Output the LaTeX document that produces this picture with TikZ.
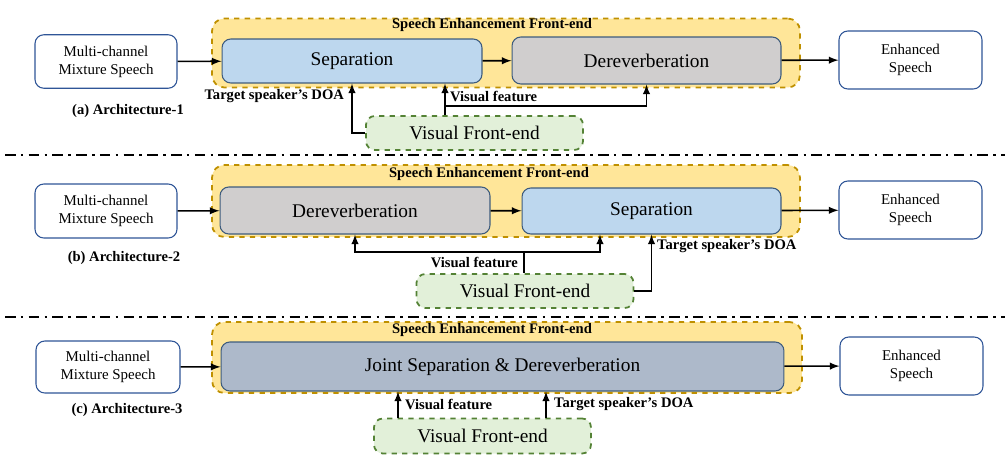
\documentclass[tikz,border=0pt]{standalone}
\usepackage{fontspec}
\setmainfont{Liberation Serif}
\definecolor{seyellow}{HTML}{FFE699}
\definecolor{seedge}{HTML}{BF9000}
\definecolor{sepblue}{HTML}{BDD7EE}
\definecolor{dergrey}{HTML}{D0CECE}
\definecolor{jointblue}{HTML}{ADB9CA}
\definecolor{vfgreen}{HTML}{E2F0D9}
\definecolor{vfedge}{HTML}{548235}
\definecolor{boxedge}{HTML}{3E5C7E}
\definecolor{inedge}{HTML}{2F5597}
\begin{document}
\begin{tikzpicture}[x=0.02cm,y=-0.02cm,
  inbox/.style={draw=inedge,line width=0.6pt,rounded corners=5pt,fill=white,align=center,
    minimum width=2.84cm,minimum height=1.07cm,font=\fontsize{8.5}{10.2}\selectfont},
  sebox/.style={draw=seedge,dashed,line width=1pt,rounded corners=7pt,fill=seyellow,
    minimum width=11.76cm},
  blockbox/.style={draw=boxedge,line width=0.6pt,rounded corners=5pt,
    minimum height=0.92cm,font=\fontsize{11}{13}\selectfont},
  vfbox/.style={draw=vfedge,dashed,line width=1pt,rounded corners=5pt,fill=vfgreen,
    minimum width=4.34cm,minimum height=0.68cm,font=\fontsize{11}{13}\selectfont},
  lbl/.style={font=\fontsize{8.3}{9.8}\selectfont\bfseries,inner sep=1pt},
  sepline/.style={line width=0.9pt,dash pattern=on 6pt off 3pt on 1.5pt off 3pt},
  arr/.style={->,>=latex,line width=0.9pt}]

\useasboundingbox (0,0) rectangle (1007,460);

\node[inbox]
(IA)
at (106,61.5)
{Multi-channel\\Mixture Speech};

\node[sebox,minimum height=1.38cm]
(EA)
at (506,53)
{};

\node[lbl]
(TA)
at (492,25)
{Speech Enhancement Front-end};

\node[blockbox,fill=sepblue,minimum width=5.2cm,minimum height=0.88cm]
(SA)
at (352,61)
{Separation};

\node[blockbox,fill=dergrey,minimum width=5.38cm,minimum height=0.94cm]
(DA)
at (646.5,60.5)
{Dereverberation};

\node[inbox,minimum width=2.86cm,minimum height=1.16cm]
(OA)
at (910.5,60)
{Enhanced\\Speech};

\node[vfbox]
(VA)
at (474.5,133)
{Visual Front-end};

\coordinate (FA) at (445,106);

\node[lbl,anchor=east]
(LDA)
at (346,96)
{Target speaker’s DOA};

\node[lbl,anchor=west]
(LFA)
at (448,96)
{Visual feature};

\node[lbl]
(CA)
at (128,111)
{(a) Architecture-1};

\draw[arr] (IA) -- (SA);
\draw[arr] (SA) -- (DA);
\draw[arr] (DA) -- (OA);
\draw[arr] (VA.west) -| (SA.south);
\draw[arr] (VA.north -| FA) -- (SA.south -| FA);
\draw[arr] (FA) -| (DA.south);

\coordinate (LA1) at (5,155);
\coordinate (LA2) at (1005,155);
\draw[sepline] (LA1) -- (LA2);

\node[inbox,minimum height=1.08cm]
(IB)
at (106,211)
{Multi-channel\\Mixture Speech};

\node[sebox,minimum height=1.44cm]
(EB)
at (506,201)
{};

\node[lbl]
(TB)
at (489,174)
{Speech Enhancement Front-end};

\node[blockbox,fill=dergrey,minimum width=5.4cm,minimum height=0.94cm]
(DB)
at (355,210.5)
{Dereverberation};

\node[blockbox,fill=sepblue,minimum width=5.18cm,minimum height=0.92cm]
(SB)
at (651.5,211)
{Separation};

\node[inbox,minimum width=2.86cm,minimum height=1.16cm]
(OB)
at (910.5,210)
{Enhanced\\Speech};

\node[vfbox]
(VB)
at (525,291)
{Visual Front-end};

\coordinate (FB) at (524,252);
\coordinate (GB) at (600,252);

\node[lbl,anchor=east]
(LFB)
at (520,262)
{Visual feature};

\node[lbl,anchor=west]
(LDB)
at (655,246)
{Target speaker’s DOA};

\node[lbl]
(CB)
at (124,258)
{(b) Architecture-2};

\draw[arr] (IB) -- (DB);
\draw[arr] (DB) -- (SB);
\draw[arr] (SB) -- (OB);
\draw[line width=0.9pt] (VB.north -| FB) -- (FB);
\draw[arr] (FB) -| (DB.south);
\draw[arr] (FB) -- (GB) -- (GB |- SB.south);
\draw[arr] (VB.east) -| (SB.south);

\coordinate (LB1) at (5,317);
\coordinate (LB2) at (1005,317);
\draw[sepline] (LB1) -- (LB2);

\node[inbox,minimum width=2.88cm,minimum height=1.04cm]
(IC)
at (108,367)
{Multi-channel\\Mixture Speech};

\node[sebox,minimum width=11.8cm,minimum height=1.42cm]
(EC)
at (507,357.5)
{};

\node[lbl]
(TC)
at (492,330)
{Speech Enhancement Front-end};

\node[blockbox,fill=jointblue,minimum width=11.26cm,minimum height=0.98cm]
(JC)
at (502.5,366.5)
{Joint Separation \& Dereverberation};

\node[inbox,minimum width=2.86cm,minimum height=1.16cm]
(OC)
at (911.5,366)
{Enhanced\\Speech};

\node[vfbox,minimum height=0.7cm]
(VC)
at (482.5,436)
{Visual Front-end};

\coordinate (FC) at (398,0);
\coordinate (DC) at (546,0);

\node[lbl,anchor=west]
(LFC)
at (403,404)
{Visual feature};

\node[lbl,anchor=west]
(LDC)
at (552,404)
{Target speaker’s DOA};

\node[lbl]
(CC)
at (127,410)
{(c) Architecture-3};

\draw[arr] (IC) -- (JC);
\draw[arr] (JC) -- (OC);
\draw[arr] (VC.north -| FC) -- (JC.south -| FC);
\draw[arr] (VC.north -| DC) -- (JC.south -| DC);

\end{tikzpicture}
\end{document}
